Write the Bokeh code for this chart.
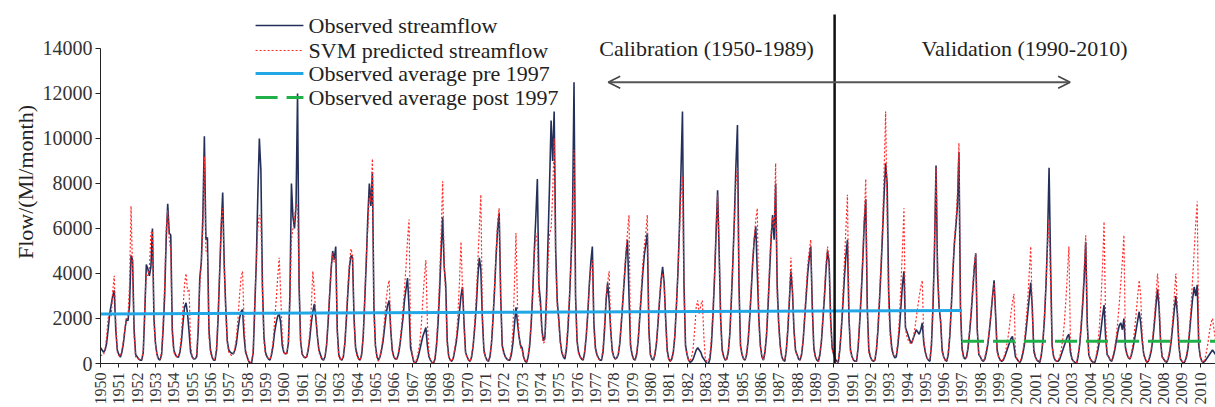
import math
from bokeh.plotting import figure
from bokeh.models import Label, Arrow, OpenHead, FixedTicker, Title
from bokeh.embed import file_html
from bokeh.resources import INLINE

# ---------------- data (Ml/month, monthly Jan..Dec per year) ----------------
years = list(range(1950, 2011))

observed = [
    [700, 600, 500, 600, 900, 1500, 2200, 2600, 3000, 3250, 1500, 600],      # 1950
    [400, 280, 500, 900, 1500, 2000, 1900, 2600, 4800, 4600, 1500, 400],
    [300, 200, 150, 150, 500, 2300, 4400, 4200, 3900, 4300, 6000, 2000],
    [900, 400, 200, 150, 400, 1500, 3000, 5500, 7100, 5800, 5700, 1500],
    [600, 400, 300, 280, 500, 1000, 1800, 2500, 2700, 2200, 1400, 500],
    [300, 200, 210, 300, 1500, 3800, 4500, 6500, 10100, 5500, 5600, 1500],   # 1955
    [600, 300, 150, 150, 600, 2000, 4000, 6000, 7600, 4400, 2500, 1000],
    [600, 500, 450, 430, 600, 900, 1500, 2000, 2300, 2400, 1200, 500],
    [300, 100, 0, 50, 500, 2500, 4500, 7500, 10000, 8600, 3500, 1200],
    [500, 300, 200, 150, 400, 800, 1400, 1800, 2100, 2200, 1800, 800],
    [500, 430, 450, 900, 3000, 8000, 6500, 6000, 7000, 12000, 3500, 1000],   # 1960
    [430, 300, 250, 300, 600, 1100, 1800, 2300, 2650, 2000, 1200, 600],
    [400, 200, 150, 300, 800, 1800, 3000, 4200, 5000, 4600, 5200, 1500],
    [400, 200, 150, 300, 900, 2000, 3200, 4300, 4800, 4700, 2000, 700],
    [400, 200, 150, 400, 1200, 2800, 4500, 6500, 8000, 7000, 8500, 2500],
    [800, 300, 150, 300, 600, 1000, 1600, 2200, 2600, 2800, 1500, 600],      # 1965
    [300, 200, 200, 400, 800, 1400, 2000, 2800, 3300, 3800, 2500, 700],
    [400, 100, 0, 100, 300, 600, 900, 1200, 1400, 1600, 800, 300],
    [150, 50, 0, 200, 800, 1800, 3200, 5000, 6500, 4300, 3500, 1000],
    [300, 150, 100, 250, 600, 1000, 1600, 2300, 3000, 3400, 1800, 500],
    [300, 150, 100, 300, 800, 1600, 2500, 3800, 4700, 4200, 2000, 600],      # 1970
    [300, 150, 100, 300, 900, 2000, 3300, 4800, 6000, 6700, 3000, 800],
    [500, 300, 200, 150, 150, 400, 900, 1700, 2500, 1800, 1200, 800],
    [700, 300, 100, 50, 300, 800, 1800, 3200, 5000, 6500, 8200, 3500],
    [2800, 1500, 1000, 1200, 3000, 5500, 8000, 10800, 9000, 11200, 5000, 2800],
    [2000, 1000, 500, 300, 200, 600, 1500, 2800, 4500, 6500, 12500, 3000],   # 1975
    [1000, 500, 300, 200, 150, 500, 1200, 2200, 3500, 4500, 5200, 1800],
    [700, 400, 250, 150, 150, 500, 1500, 2800, 3600, 2800, 1500, 600],
    [300, 200, 250, 400, 900, 1800, 2800, 3800, 4800, 5500, 3000, 800],
    [400, 200, 150, 400, 1000, 2000, 3000, 4000, 4800, 5300, 5800, 1500],
    [400, 200, 150, 400, 900, 1800, 2800, 3700, 4300, 3600, 2000, 600],      # 1980
    [200, 100, 200, 500, 1200, 2500, 4000, 6000, 8500, 11200, 3500, 800],
    [400, 150, 50, 100, 200, 400, 600, 700, 600, 500, 300, 200],
    [100, 0, 0, 200, 900, 2200, 3800, 5800, 7700, 5000, 2000, 600],
    [300, 150, 200, 500, 1300, 2800, 4500, 6500, 8800, 10600, 3500, 800],
    [400, 200, 150, 400, 1000, 2000, 3200, 4500, 5500, 6100, 4000, 2000],    # 1985
    [800, 300, 150, 500, 1200, 2500, 4000, 5500, 6600, 5500, 8000, 3500],
    [1800, 800, 300, 150, 100, 600, 1500, 2800, 4100, 3200, 1500, 600],
    [400, 200, 150, 400, 1000, 2000, 3000, 4000, 4700, 5200, 2500, 700],
    [300, 150, 100, 400, 1000, 2000, 3000, 4200, 5000, 4500, 2000, 700],
    [400, 200, 100, 50, 600, 1500, 2600, 3800, 4800, 5500, 2000, 600],       # 1990
    [300, 150, 100, 100, 700, 1800, 3000, 4500, 6200, 7300, 2500, 600],
    [300, 150, 100, 150, 600, 1500, 2800, 4200, 5800, 7500, 8900, 8000],
    [3200, 1500, 700, 400, 250, 300, 800, 1500, 2500, 3500, 4100, 1600],
    [1400, 1200, 1000, 900, 1100, 1300, 1500, 1400, 1300, 1500, 1800, 900],
    [500, 250, 150, 100, 800, 2500, 5000, 8800, 4000, 2500, 1900, 600],      # 1995
    [300, 150, 100, 400, 1200, 2500, 4000, 5300, 6100, 7000, 9400, 2500],
    [700, 300, 200, 300, 700, 1400, 2200, 3200, 4200, 4900, 1500, 400],
    [300, 150, 100, 200, 500, 900, 1500, 2200, 3000, 3700, 2200, 600],
    [300, 150, 100, 150, 300, 500, 700, 900, 1100, 1200, 800, 300],
    [200, 100, 50, 200, 500, 900, 1500, 2200, 2900, 3600, 2500, 600],        # 2000
    [300, 150, 100, 50, 400, 1000, 2000, 3500, 5500, 8700, 4400, 800],
    [300, 150, 100, 100, 200, 400, 600, 800, 1000, 1200, 1300, 500],
    [200, 100, 50, 0, 300, 800, 1600, 2600, 3800, 5400, 1800, 400],
    [200, 100, 50, 50, 300, 600, 1000, 1500, 2100, 2600, 1200, 400],
    [300, 150, 100, 300, 600, 1000, 1400, 1700, 1800, 1500, 2000, 700],      # 2005
    [400, 250, 200, 400, 700, 1100, 1500, 1900, 2300, 1800, 1000, 400],
    [200, 50, 100, 300, 600, 1100, 1800, 2600, 3300, 2500, 1000, 300],
    [200, 100, 50, 200, 500, 1000, 1700, 2400, 3000, 2200, 800, 200],
    [100, 0, 100, 300, 700, 1400, 2200, 2900, 3400, 3000, 3500, 800],
    [300, 100, 50, 100, 200, 300, 400, 500, 600, 500, 400, 300],             # 2010
]

svm_predicted = [
    [400, 350, 400, 600, 1200, 2000, 2300, 2100, 3200, 3900, 1800, 500],     # 1950
    [350, 300, 600, 1000, 1600, 1900, 2100, 3500, 7000, 4100, 1200, 300],
    [250, 200, 150, 200, 600, 2600, 4000, 3900, 4200, 5800, 5900, 1800],
    [800, 350, 200, 200, 500, 1800, 3500, 6000, 6800, 5500, 5000, 1200],
    [500, 350, 300, 300, 600, 1300, 2400, 3500, 4000, 3200, 3300, 800],
    [300, 200, 200, 400, 1800, 3500, 4500, 6000, 9200, 5000, 5000, 1200],    # 1955
    [500, 250, 150, 200, 800, 2300, 4200, 6300, 6900, 4200, 2300, 900],
    [500, 400, 350, 400, 700, 1200, 2000, 3000, 3800, 4100, 1800, 600],
    [300, 100, 50, 100, 700, 2800, 4500, 6000, 6600, 6500, 3200, 1000],
    [400, 300, 200, 200, 500, 1000, 1900, 2800, 3800, 4700, 3000, 1200],
    [500, 400, 450, 1000, 2800, 5500, 6000, 6400, 7100, 7000, 3500, 1000],   # 1960
    [400, 300, 250, 300, 700, 1400, 2500, 4100, 3200, 2200, 1200, 500],
    [300, 200, 150, 300, 900, 2000, 3200, 4300, 4900, 4500, 4800, 1300],
    [300, 200, 150, 400, 1000, 2200, 3500, 4500, 5100, 4800, 1800, 600],
    [300, 200, 150, 500, 1300, 3000, 4800, 6000, 7500, 7200, 9100, 2200],
    [700, 250, 100, 300, 700, 1200, 2000, 2800, 3400, 3700, 1600, 500],      # 1965
    [300, 200, 200, 500, 900, 1600, 2400, 3300, 4300, 5500, 6400, 1200],
    [400, 100, 0, 200, 500, 900, 1700, 2800, 3800, 4600, 1800, 400],
    [150, 50, 0, 300, 1000, 2200, 3800, 5800, 8100, 4500, 3000, 800],
    [300, 150, 100, 300, 700, 1200, 2200, 3600, 5400, 3300, 1600, 400],
    [300, 150, 100, 400, 900, 1800, 3000, 4500, 6000, 7500, 2200, 500],      # 1970
    [300, 150, 100, 400, 1000, 2200, 3500, 5000, 6300, 6900, 2800, 700],
    [400, 300, 200, 150, 200, 600, 1500, 3500, 5800, 2500, 1200, 700],
    [600, 250, 100, 100, 400, 1000, 2000, 3400, 4800, 5800, 5300, 3000],
    [2500, 1300, 900, 1000, 2500, 4500, 5800, 6000, 7500, 10000, 4500, 2500],
    [1800, 900, 500, 300, 300, 800, 1800, 3000, 4500, 6000, 9500, 2800],     # 1975
    [900, 400, 300, 200, 200, 600, 1300, 2300, 3400, 4200, 4600, 1500],
    [600, 350, 200, 150, 200, 700, 1800, 3000, 3600, 4100, 1500, 500],
    [300, 200, 250, 500, 1000, 2000, 3000, 4000, 5000, 5800, 6600, 900],
    [400, 200, 150, 500, 1100, 2200, 3300, 4400, 5200, 5800, 6600, 1300],
    [400, 200, 150, 500, 1000, 1900, 2900, 3700, 4000, 3500, 1800, 500],     # 1980
    [200, 100, 200, 600, 1300, 2600, 4000, 5800, 7500, 8300, 3200, 700],
    [400, 150, 100, 300, 700, 1500, 2500, 2800, 2200, 2600, 2800, 1200],
    [200, 100, 100, 400, 1200, 2500, 4000, 6000, 7500, 5200, 1800, 500],
    [300, 150, 200, 600, 1400, 3000, 4600, 6300, 8000, 8700, 3200, 700],
    [400, 200, 150, 500, 1100, 2200, 3400, 4700, 5600, 6400, 6900, 1800],    # 1985
    [700, 300, 150, 600, 1400, 2800, 4300, 5800, 6500, 6000, 8900, 3000],
    [1600, 700, 300, 150, 150, 700, 1700, 3000, 4700, 3400, 1400, 500],
    [400, 200, 150, 500, 1100, 2200, 3300, 4400, 5000, 5500, 2300, 600],
    [300, 150, 100, 500, 1100, 2200, 3300, 4500, 5200, 4600, 1800, 600],
    [400, 200, 100, 100, 700, 1700, 3000, 4500, 6000, 7500, 2200, 500],      # 1990
    [300, 150, 100, 150, 800, 2000, 3300, 4800, 6500, 8200, 2300, 500],
    [300, 150, 100, 200, 700, 1700, 3000, 4500, 6200, 8500, 11200, 6500],
    [2500, 1200, 600, 400, 300, 400, 1000, 2000, 3500, 5000, 6900, 1500],
    [1200, 1000, 900, 900, 1100, 1500, 2000, 2500, 3000, 3400, 3700, 1000],
    [500, 250, 150, 200, 1000, 2800, 5500, 8700, 4500, 2600, 1800, 500],     # 1995
    [300, 150, 100, 500, 1300, 2700, 4200, 5500, 6300, 7500, 9800, 2300],
    [600, 250, 200, 300, 800, 1500, 2400, 3400, 4400, 4900, 1400, 400],
    [300, 150, 100, 300, 600, 1000, 1600, 2300, 3000, 3600, 2000, 500],
    [300, 150, 100, 200, 400, 700, 1100, 1600, 2200, 2700, 3100, 500],
    [200, 100, 50, 300, 600, 1100, 1900, 2800, 4000, 5200, 2200, 500],       # 2000
    [300, 150, 100, 100, 500, 1100, 2200, 3600, 5200, 6400, 3500, 700],
    [300, 150, 100, 150, 300, 600, 1100, 1800, 2800, 4000, 5200, 800],
    [200, 100, 50, 50, 400, 900, 1800, 2900, 4200, 5700, 1700, 400],
    [200, 100, 50, 100, 400, 900, 1700, 2800, 4300, 6300, 2000, 400],
    [300, 150, 100, 400, 700, 1200, 1900, 2700, 3600, 4600, 5700, 800],      # 2005
    [400, 250, 200, 500, 900, 1500, 2200, 3000, 3700, 3000, 1200, 400],
    [200, 50, 100, 400, 700, 1300, 2100, 3000, 4000, 3000, 1000, 300],
    [200, 100, 50, 300, 600, 1200, 2000, 3000, 4000, 2500, 800, 200],
    [100, 50, 100, 400, 800, 1600, 2600, 3800, 5000, 6200, 7200, 1000],
    [300, 100, 50, 200, 500, 900, 1400, 1800, 2000, 1500, 1000, 600],        # 2010
]

pre_avg_x = [1950, 1997]
pre_avg_y = [2200, 2360]
post_avg_x = [1997, 2011]
post_avg_y = [990, 990]

y_ticks = [0, 2000, 4000, 6000, 8000, 10000, 12000, 14000]

legend_labels = ["Observed streamflow", "SVM predicted streamflow",
                 "Observed average pre 1997", "Observed average post 1997"]

# ---------------- build ----------------
t = [yr + m / 12.0 for yr in years for m in range(12)]
obs_flat = [v for row in observed for v in row]
svm_flat = [v for row in svm_predicted for v in row]

SERIF = "Liberation Serif"
TXT = "#222222"

p = figure(width=1215, height=407, output_backend="svg", toolbar_location=None,
           x_range=(1950, 2010.83), y_range=(0, 16133),
           min_border_left=100, min_border_right=0, min_border_top=0, min_border_bottom=44)
p.outline_line_color = None
p.grid.visible = False
p.background_fill_color = "white"

styles = [
    dict(line_color="#25305a", line_width=1.6),
    dict(line_color="#ff2b2b", line_width=1.2, line_dash="2 2"),
    dict(line_color="#22a7e6", line_width=3),
    dict(line_color="#1fb04a", line_width=3, line_dash="22 9"),
]

p.line(t, obs_flat, **styles[0])
p.line(t, svm_flat, **styles[1])
p.line(pre_avg_x, pre_avg_y, **styles[2])
p.line(post_avg_x, post_avg_y, **styles[3])

# divider between calibration and validation
p.line([1990.05, 1990.05], [0, 15511], line_color="#111111", line_width=2.5)

# arrow
p.add_layout(Arrow(start=OpenHead(size=12, line_color="#444444", line_width=1.5),
                   end=OpenHead(size=12, line_color="#444444", line_width=1.5),
                   x_start=1977.7, y_start=12500, x_end=2002.9, y_end=12500,
                   line_color="#555555", line_width=2))

p.add_layout(Label(x=1983.06, y=14000, text="Calibration (1950-1989)",
                   text_align="center", text_baseline="middle",
                   text_font=SERIF, text_font_size="22px", text_color=TXT))
p.add_layout(Label(x=2000.41, y=14000, text="Validation (1990-2010)",
                   text_align="center", text_baseline="middle",
                   text_font=SERIF, text_font_size="22px", text_color=TXT))

# hand-built legend (in data coordinates, top-left of the plot)
leg_x0, leg_x1, leg_tx = 1958.46, 1961.07, 1961.35
leg_rows = [15022, 13911, 12889, 11822]
for lab, yy, st in zip(legend_labels, leg_rows, styles):
    p.line([leg_x0, leg_x1], [yy, yy], **st)
    p.add_layout(Label(x=leg_tx, y=yy, text=lab, text_align="left", text_baseline="middle",
                       text_font=SERIF, text_font_size="22px", text_color=TXT))

# y axis title on the left, shifted down to match the original
p.add_layout(Title(text="Flow/(Ml/month)", align="center", offset=-25,
                   text_font=SERIF, text_font_size="22px", text_font_style="normal",
                   text_color=TXT, standoff=4), "left")

# axes
xa = p.xaxis[0]
xa.ticker = FixedTicker(ticks=years)
xa.major_label_orientation = math.pi / 2
xa.major_label_text_font = SERIF
xa.major_label_text_font_size = "16px"
xa.major_label_text_color = "#333333"
xa.major_label_standoff = 5
xa.major_tick_in = 0
xa.major_tick_out = 4
xa.minor_tick_line_color = None
xa.axis_line_color = "#222222"
xa.major_tick_line_color = "#222222"

ya = p.yaxis[0]
ya.ticker = FixedTicker(ticks=y_ticks)
ya.bounds = (0, 14000)
ya.major_label_text_font = SERIF
ya.major_label_text_font_size = "20px"
ya.major_label_text_color = "#333333"
ya.major_label_standoff = 3
ya.major_tick_in = 0
ya.major_tick_out = 5
ya.minor_tick_line_color = None
ya.axis_line_color = "#222222"
ya.major_tick_line_color = "#222222"

open("out.html", "w").write(file_html(p, INLINE))
